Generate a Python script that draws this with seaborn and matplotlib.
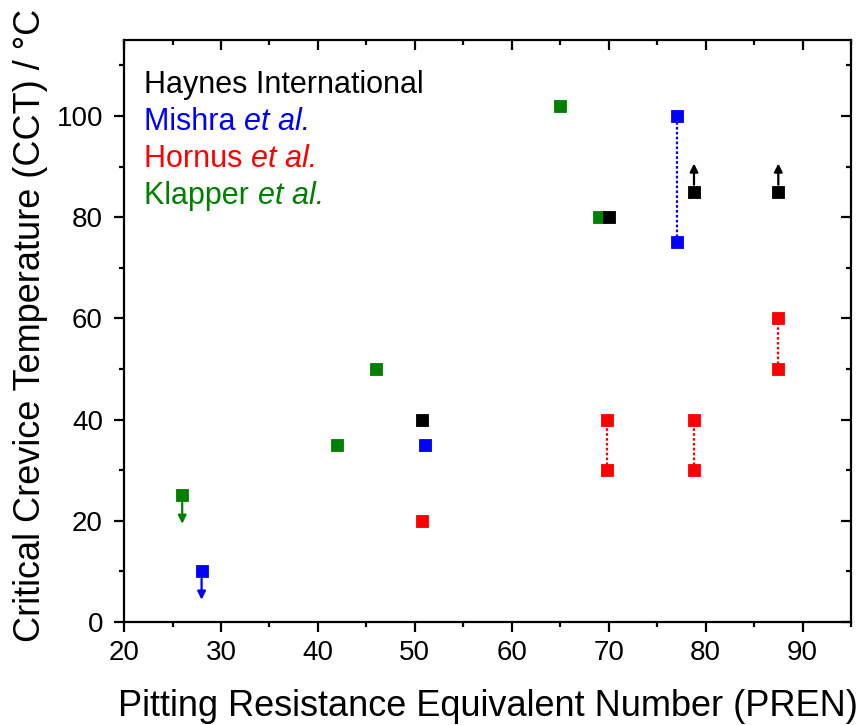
import matplotlib
matplotlib.use("Agg")
import matplotlib.pyplot as plt
import matplotlib.lines as mlines
import seaborn as sns
import pandas as pd
from matplotlib.ticker import MultipleLocator

sns.set_theme(style="ticks")
plt.rcParams['font.family'] = ['Liberation Sans', 'DejaVu Sans']
plt.rcParams['text.color'] = 'black'
plt.rcParams['axes.labelcolor'] = 'black'

# Data
haynes_x = [50.7, 70.0, 78.8, 87.5]
haynes_y = [40, 80, 85, 85]
mishra_x = [28, 51, 77, 77]
mishra_y = [10, 35, 100, 75]
hornus_x = [50.7, 69.8, 69.8, 78.8, 78.8, 87.5, 87.5]
hornus_y = [20, 30, 40, 30, 40, 50, 60]
klapper_x = [26, 42, 46, 65, 69]
klapper_y = [25, 35, 50, 102, 80]

# ranges (x, low, high)
mishra_ranges = [(77, 75, 100)]
hornus_ranges = [(69.8, 30, 40), (78.8, 30, 40), (87.5, 50, 60)]
# bound arrows (x, y, direction)
haynes_arrows = [(78.8, 85, 1), (87.5, 85, 1)]
klapper_arrows = [(26, 25, -1)]
mishra_arrows = [(28, 10, -1)]

series = [
    ("Klapper", klapper_x, klapper_y, "#008000"),
    ("Haynes", haynes_x, haynes_y, "black"),
    ("Mishra", mishra_x, mishra_y, "#0000FF"),
    ("Hornus", hornus_x, hornus_y, "#FF0000"),
]

fig = plt.figure(figsize=(8.59, 7.25), dpi=100)
ax = fig.add_axes([0.1444, 0.1421, 0.8463, 0.8027])

for rng, col in [(mishra_ranges, "#0000FF"), (hornus_ranges, "#FF0000")]:
    for x, lo, hi in rng:
        ax.plot([x, x], [lo, hi], color=col, lw=1.6, ls=(0, (1.2, 1.0)), zorder=1)

for name, xs, ys, col in series:
    df = pd.DataFrame({"x": xs, "y": ys})
    sns.scatterplot(data=df, x="x", y="y", marker="s", s=66, color=col,
                    edgecolor=col, linewidth=0.6, ax=ax, zorder=3)

for arrows, col in [(haynes_arrows, "black"), (klapper_arrows, "#008000"), (mishra_arrows, "#0000FF")]:
    for x, y, d in arrows:
        start = y + d * 1.4
        end = y + d * 5.6
        ax.annotate("", xy=(x, end), xytext=(x, start),
                    arrowprops=dict(arrowstyle="-|>", color=col, lw=1.6,
                                    mutation_scale=12, shrinkA=0, shrinkB=0))

ax.set_xlim(20, 95)
ax.set_ylim(0, 115)
ax.xaxis.set_major_locator(MultipleLocator(10))
ax.xaxis.set_minor_locator(MultipleLocator(5))
ax.yaxis.set_major_locator(MultipleLocator(20))
ax.yaxis.set_minor_locator(MultipleLocator(10))

for sp in ax.spines.values():
    sp.set_visible(True)
    sp.set_linewidth(1.6)
    sp.set_color("black")

ax.tick_params(which="major", direction="out", length=7.2, width=1.6, labelsize=20,
               colors="black", labelcolor="black")
ax.tick_params(which="minor", direction="out", length=3.6, width=1.6, colors="black")
ax.tick_params(axis="x", which="major", pad=6)
ax.tick_params(axis="y", which="major", pad=8)
ax.tick_params(which="both", top=True, right=True)
for t in ax.xaxis.get_major_ticks() + ax.xaxis.get_minor_ticks():
    t.tick2line.set_marker(mlines.TICKDOWN)
for t in ax.yaxis.get_major_ticks() + ax.yaxis.get_minor_ticks():
    t.tick2line.set_marker(mlines.TICKLEFT)

ax.set_xlabel("Pitting Resistance Equivalent Number (PREN)", fontsize=26,
              labelpad=16.5, color="black")
ax.set_ylabel("Critical Crevice Temperature (CCT) / °C", fontsize=26, color="black")
ax.yaxis.set_label_coords(-0.1045, 0.509)

leg = [
    ("Haynes International", None, "black"),
    ("Mishra ", "et al.", "#0000FF"),
    ("Hornus ", "et al.", "#FF0000"),
    ("Klapper ", "et al.", "#008000"),
]
y0 = 0.9084
for i, (a, b, col) in enumerate(leg):
    yy = y0 - i * 0.0636
    t = ax.text(0.028, yy, a, transform=ax.transAxes, fontsize=22, color=col,
                va="baseline", ha="left")
    if b:
        ax.annotate(b, xycoords=t, xy=(1, 0), va="bottom", ha="left",
                    fontsize=22, color=col, style="italic")

fig.savefig("out.png", dpi=100)
